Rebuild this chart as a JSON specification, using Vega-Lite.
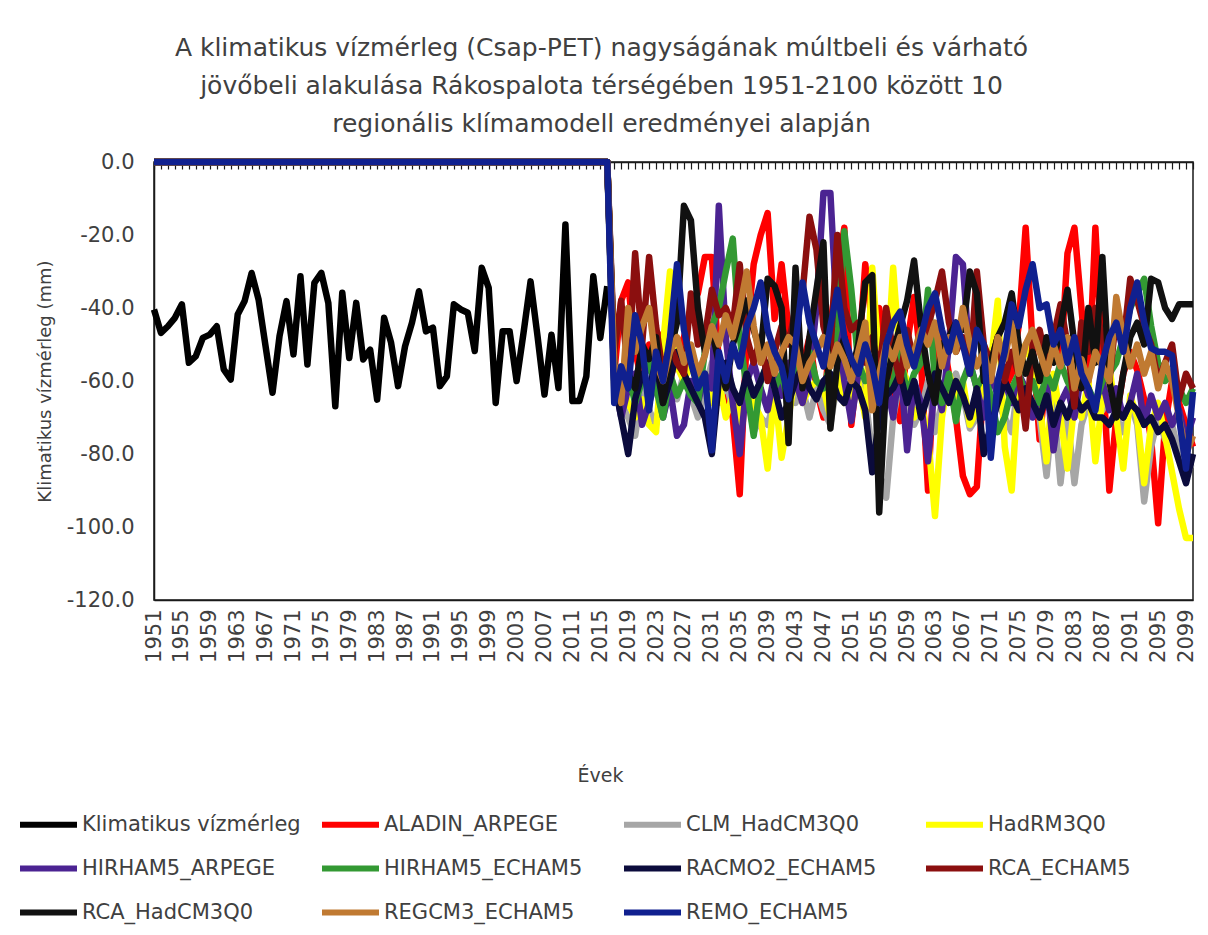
{
  "$schema": "https://vega.github.io/schema/vega-lite/v6.json",
  "width": 1039,
  "height": 438,
  "autosize": {"type": "none"},
  "padding": {"left": 154, "top": 162, "right": 15, "bottom": 335},
  "background": "white",
  "config": {
    "font": "DejaVu Sans",
    "view": {"stroke": "#1a1a1a", "strokeWidth": 1.5},
    "locale": {"number": {"decimal": ".", "thousands": ",", "grouping": [3], "currency": ["$", ""], "minus": "-"}}
  },
  "title": {
    "text": ["A klimatikus vízmérleg (Csap-PET) nagyságának múltbeli és várható", "jövőbeli alakulása Rákospalota térségében 1951-2100 között 10", "regionális klímamodell eredményei alapján"],
    "frame": "group",
    "anchor": "middle",
    "dx": -72,
    "offset": 14,
    "fontSize": 25,
    "fontWeight": "normal",
    "color": "#404040",
    "lineHeight": 38
  },
  "resolve": {"axis": {"x": "independent"}},
  "layer": [
    {
      "data": {"values": [
        {"series": "Klimatikus vízmérleg",
         "year": [1951,1952,1953,1954,1955,1956,1957,1958,1959,1960,1961,1962,1963,1964,1965,1966,1967,1968,1969,1970,1971,1972,1973,1974,1975,1976,1977,1978,1979,1980,1981,1982,1983,1984,1985,1986,1987,1988,1989,1990,1991,1992,1993,1994,1995,1996,1997,1998,1999,2000,2001,2002,2003,2004,2005,2006,2007,2008,2009,2010,2011,2012,2013,2014,2015,2016],
         "value": [-40.4,-46.8,-45,-42.7,-39,-55,-53.2,-48.2,-47.3,-45,-56.8,-59.6,-41.8,-38.1,-30.4,-37.7,-50.5,-63.2,-47.7,-38.1,-52.7,-31.3,-55.5,-33.1,-30.4,-38.6,-66.9,-35.8,-53.7,-38.6,-54.1,-51.4,-65.1,-42.7,-49.5,-61.4,-50.5,-44,-35.4,-46.4,-45.4,-61.4,-58.7,-39,-40.4,-41.3,-51.8,-29,-34.5,-66,-46.4,-46.4,-60,-46.7,-32.7,-47.7,-63.7,-47.3,-61.9,-17.1,-65.5,-65.5,-58.7,-31.3,-48.2,-34]},
        {"series": "ALADIN_ARPEGE",
         "year": [1951,1952,1953,1954,1955,1956,1957,1958,1959,1960,1961,1962,1963,1964,1965,1966,1967,1968,1969,1970,1971,1972,1973,1974,1975,1976,1977,1978,1979,1980,1981,1982,1983,1984,1985,1986,1987,1988,1989,1990,1991,1992,1993,1994,1995,1996,1997,1998,1999,2000,2001,2002,2003,2004,2005,2006,2007,2008,2009,2010,2011,2012,2013,2014,2015,2016,2017,2018,2019,2020,2021,2022,2023,2024,2025,2026,2027,2028,2029,2030,2031,2032,2033,2034,2035,2036,2037,2038,2039,2040,2041,2042,2043,2044,2045,2046,2047,2048,2049,2050,2051,2052,2053,2054,2055,2056,2057,2058,2059,2060,2061,2062,2063,2064,2065,2066,2067,2068,2069,2070,2071,2072,2073,2074,2075,2076,2077,2078,2079,2080,2081,2082,2083,2084,2085,2086,2087,2088,2089,2090,2091,2092,2093,2094,2095,2096,2097,2098,2099,2100],
         "value": [0,0,0,0,0,0,0,0,0,0,0,0,0,0,0,0,0,0,0,0,0,0,0,0,0,0,0,0,0,0,0,0,0,0,0,0,0,0,0,0,0,0,0,0,0,0,0,0,0,0,0,0,0,0,0,0,0,0,0,0,0,0,0,0,0,0,
           -58,-38,-33,-52,-60,-50,-57,-47,-60,-52,-48,-40,-36,-26,-26,-55,-62,-70,-91,-48,-28,-20,-14,-43,-28,-46,-50,-56,-48,-62,-70,-45,-30,-18,-72,-55,-28,-45,-40,-52,-62,-71,-50,-37,-55,-90,-52,-47,-58,-70,-86,-91,-89,-60,-55,-48,-62,-58,-45,-18,-50,-76,-58,-50,-56,-25,-18,-40,-62,-18,-55,-90,-70,-58,-52,-57,-65,-76,-99,-72,-60,-66,-72,-78]},
        {"series": "CLM_HadCM3Q0",
         "year": [1951,1952,1953,1954,1955,1956,1957,1958,1959,1960,1961,1962,1963,1964,1965,1966,1967,1968,1969,1970,1971,1972,1973,1974,1975,1976,1977,1978,1979,1980,1981,1982,1983,1984,1985,1986,1987,1988,1989,1990,1991,1992,1993,1994,1995,1996,1997,1998,1999,2000,2001,2002,2003,2004,2005,2006,2007,2008,2009,2010,2011,2012,2013,2014,2015,2016,2017,2018,2019,2020,2021,2022,2023,2024,2025,2026,2027,2028,2029,2030,2031,2032,2033,2034,2035,2036,2037,2038,2039,2040,2041,2042,2043,2044,2045,2046,2047,2048,2049,2050,2051,2052,2053,2054,2055,2056,2057,2058,2059,2060,2061,2062,2063,2064,2065,2066,2067,2068,2069,2070,2071,2072,2073,2074,2075,2076,2077,2078,2079,2080,2081,2082,2083,2084,2085,2086,2087,2088,2089,2090,2091,2092,2093,2094,2095,2096,2097,2098,2099,2100],
         "value": [0,0,0,0,0,0,0,0,0,0,0,0,0,0,0,0,0,0,0,0,0,0,0,0,0,0,0,0,0,0,0,0,0,0,0,0,0,0,0,0,0,0,0,0,0,0,0,0,0,0,0,0,0,0,0,0,0,0,0,0,0,0,0,0,0,0,
           -60,-66,-70,-75,-62,-68,-72,-60,-58,-65,-58,-64,-70,-62,-55,-66,-60,-68,-65,-62,-74,-70,-72,-65,-60,-58,-66,-62,-70,-62,-68,-72,-60,-55,-62,-58,-64,-80,-85,-92,-70,-60,-65,-72,-68,-60,-74,-66,-62,-58,-64,-73,-70,-62,-68,-66,-70,-74,-60,-62,-66,-70,-86,-66,-88,-70,-88,-72,-66,-70,-68,-62,-70,-74,-66,-72,-93,-78,-70,-76,-72,-80,-83,-84]},
        {"series": "HadRM3Q0",
         "year": [1951,1952,1953,1954,1955,1956,1957,1958,1959,1960,1961,1962,1963,1964,1965,1966,1967,1968,1969,1970,1971,1972,1973,1974,1975,1976,1977,1978,1979,1980,1981,1982,1983,1984,1985,1986,1987,1988,1989,1990,1991,1992,1993,1994,1995,1996,1997,1998,1999,2000,2001,2002,2003,2004,2005,2006,2007,2008,2009,2010,2011,2012,2013,2014,2015,2016,2017,2018,2019,2020,2021,2022,2023,2024,2025,2026,2027,2028,2029,2030,2031,2032,2033,2034,2035,2036,2037,2038,2039,2040,2041,2042,2043,2044,2045,2046,2047,2048,2049,2050,2051,2052,2053,2054,2055,2056,2057,2058,2059,2060,2061,2062,2063,2064,2065,2066,2067,2068,2069,2070,2071,2072,2073,2074,2075,2076,2077,2078,2079,2080,2081,2082,2083,2084,2085,2086,2087,2088,2089,2090,2091,2092,2093,2094,2095,2096,2097,2098,2099,2100],
         "value": [0,0,0,0,0,0,0,0,0,0,0,0,0,0,0,0,0,0,0,0,0,0,0,0,0,0,0,0,0,0,0,0,0,0,0,0,0,0,0,0,0,0,0,0,0,0,0,0,0,0,0,0,0,0,0,0,0,0,0,0,0,0,0,0,0,0,
           -62,-60,-66,-70,-65,-72,-74,-50,-30,-56,-60,-55,-62,-58,-66,-60,-70,-64,-72,-58,-66,-70,-84,-62,-81,-70,-58,-66,-62,-60,-62,-70,-58,-66,-64,-60,-70,-29,-55,-60,-29,-55,-60,-70,-66,-75,-97,-70,-58,-64,-60,-72,-68,-62,-55,-38,-78,-90,-60,-50,-55,-66,-82,-58,-70,-84,-66,-70,-60,-82,-65,-56,-70,-84,-64,-70,-88,-72,-66,-75,-85,-95,-103,-103]},
        {"series": "HIRHAM5_ARPEGE",
         "year": [1951,1952,1953,1954,1955,1956,1957,1958,1959,1960,1961,1962,1963,1964,1965,1966,1967,1968,1969,1970,1971,1972,1973,1974,1975,1976,1977,1978,1979,1980,1981,1982,1983,1984,1985,1986,1987,1988,1989,1990,1991,1992,1993,1994,1995,1996,1997,1998,1999,2000,2001,2002,2003,2004,2005,2006,2007,2008,2009,2010,2011,2012,2013,2014,2015,2016,2017,2018,2019,2020,2021,2022,2023,2024,2025,2026,2027,2028,2029,2030,2031,2032,2033,2034,2035,2036,2037,2038,2039,2040,2041,2042,2043,2044,2045,2046,2047,2048,2049,2050,2051,2052,2053,2054,2055,2056,2057,2058,2059,2060,2061,2062,2063,2064,2065,2066,2067,2068,2069,2070,2071,2072,2073,2074,2075,2076,2077,2078,2079,2080,2081,2082,2083,2084,2085,2086,2087,2088,2089,2090,2091,2092,2093,2094,2095,2096,2097,2098,2099,2100],
         "value": [0,0,0,0,0,0,0,0,0,0,0,0,0,0,0,0,0,0,0,0,0,0,0,0,0,0,0,0,0,0,0,0,0,0,0,0,0,0,0,0,0,0,0,0,0,0,0,0,0,0,0,0,0,0,0,0,0,0,0,0,0,0,0,0,0,0,
           -60,-70,-62,-58,-72,-66,-60,-70,-62,-75,-72,-60,-66,-58,-62,-12,-48,-66,-80,-60,-55,-62,-68,-58,-64,-55,-60,-66,-58,-40,-8.5,-8.5,-45,-60,-71,-58,-50,-62,-66,-60,-70,-55,-79,-60,-66,-82,-60,-68,-50,-26,-28,-55,-62,-70,-58,-64,-60,-66,-58,-62,-70,-64,-60,-79,-66,-62,-70,-58,-64,-66,-60,-68,-62,-70,-66,-58,-72,-64,-70,-66,-72,-68,-76,-70]},
        {"series": "HIRHAM5_ECHAM5",
         "year": [1951,1952,1953,1954,1955,1956,1957,1958,1959,1960,1961,1962,1963,1964,1965,1966,1967,1968,1969,1970,1971,1972,1973,1974,1975,1976,1977,1978,1979,1980,1981,1982,1983,1984,1985,1986,1987,1988,1989,1990,1991,1992,1993,1994,1995,1996,1997,1998,1999,2000,2001,2002,2003,2004,2005,2006,2007,2008,2009,2010,2011,2012,2013,2014,2015,2016,2017,2018,2019,2020,2021,2022,2023,2024,2025,2026,2027,2028,2029,2030,2031,2032,2033,2034,2035,2036,2037,2038,2039,2040,2041,2042,2043,2044,2045,2046,2047,2048,2049,2050,2051,2052,2053,2054,2055,2056,2057,2058,2059,2060,2061,2062,2063,2064,2065,2066,2067,2068,2069,2070,2071,2072,2073,2074,2075,2076,2077,2078,2079,2080,2081,2082,2083,2084,2085,2086,2087,2088,2089,2090,2091,2092,2093,2094,2095,2096,2097,2098,2099,2100],
         "value": [0,0,0,0,0,0,0,0,0,0,0,0,0,0,0,0,0,0,0,0,0,0,0,0,0,0,0,0,0,0,0,0,0,0,0,0,0,0,0,0,0,0,0,0,0,0,0,0,0,0,0,0,0,0,0,0,0,0,0,0,0,0,0,0,0,0,
           -56,-62,-58,-66,-60,-55,-62,-70,-58,-64,-60,-64,-66,-52,-45,-40,-30,-21,-48,-62,-75,-60,-55,-62,-58,-66,-55,-60,-52,-60,-62,-55,-45,-19,-35,-55,-60,-58,-66,-62,-60,-52,-64,-58,-55,-35,-60,-66,-58,-71,-60,-55,-62,-58,-64,-74,-70,-62,-58,-64,-60,-66,-58,-62,-55,-60,-64,-58,-62,-66,-60,-58,-55,-48,-40,-36,-32,-45,-55,-60,-58,-62,-66,-62]},
        {"series": "RACMO2_ECHAM5",
         "year": [1951,1952,1953,1954,1955,1956,1957,1958,1959,1960,1961,1962,1963,1964,1965,1966,1967,1968,1969,1970,1971,1972,1973,1974,1975,1976,1977,1978,1979,1980,1981,1982,1983,1984,1985,1986,1987,1988,1989,1990,1991,1992,1993,1994,1995,1996,1997,1998,1999,2000,2001,2002,2003,2004,2005,2006,2007,2008,2009,2010,2011,2012,2013,2014,2015,2016,2017,2018,2019,2020,2021,2022,2023,2024,2025,2026,2027,2028,2029,2030,2031,2032,2033,2034,2035,2036,2037,2038,2039,2040,2041,2042,2043,2044,2045,2046,2047,2048,2049,2050,2051,2052,2053,2054,2055,2056,2057,2058,2059,2060,2061,2062,2063,2064,2065,2066,2067,2068,2069,2070,2071,2072,2073,2074,2075,2076,2077,2078,2079,2080,2081,2082,2083,2084,2085,2086,2087,2088,2089,2090,2091,2092,2093,2094,2095,2096,2097,2098,2099,2100],
         "value": [0,0,0,0,0,0,0,0,0,0,0,0,0,0,0,0,0,0,0,0,0,0,0,0,0,0,0,0,0,0,0,0,0,0,0,0,0,0,0,0,0,0,0,0,0,0,0,0,0,0,0,0,0,0,0,0,0,0,0,0,0,0,0,0,0,0,
           -60,-70,-80,-65,-58,-62,-55,-66,-60,-52,-58,-62,-66,-70,-80,-60,-55,-62,-66,-58,-64,-60,-55,-62,-70,-66,-60,-56,-62,-65,-60,-58,-64,-66,-60,-62,-68,-85,-70,-64,-62,-58,-66,-60,-70,-64,-58,-62,-66,-60,-64,-70,-62,-80,-72,-66,-60,-64,-68,-62,-66,-70,-64,-72,-66,-70,-64,-68,-66,-70,-70,-72,-68,-70,-66,-68,-72,-70,-74,-72,-76,-82,-88,-80]},
        {"series": "RCA_ECHAM5",
         "year": [1951,1952,1953,1954,1955,1956,1957,1958,1959,1960,1961,1962,1963,1964,1965,1966,1967,1968,1969,1970,1971,1972,1973,1974,1975,1976,1977,1978,1979,1980,1981,1982,1983,1984,1985,1986,1987,1988,1989,1990,1991,1992,1993,1994,1995,1996,1997,1998,1999,2000,2001,2002,2003,2004,2005,2006,2007,2008,2009,2010,2011,2012,2013,2014,2015,2016,2017,2018,2019,2020,2021,2022,2023,2024,2025,2026,2027,2028,2029,2030,2031,2032,2033,2034,2035,2036,2037,2038,2039,2040,2041,2042,2043,2044,2045,2046,2047,2048,2049,2050,2051,2052,2053,2054,2055,2056,2057,2058,2059,2060,2061,2062,2063,2064,2065,2066,2067,2068,2069,2070,2071,2072,2073,2074,2075,2076,2077,2078,2079,2080,2081,2082,2083,2084,2085,2086,2087,2088,2089,2090,2091,2092,2093,2094,2095,2096,2097,2098,2099,2100],
         "value": [0,0,0,0,0,0,0,0,0,0,0,0,0,0,0,0,0,0,0,0,0,0,0,0,0,0,0,0,0,0,0,0,0,0,0,0,0,0,0,0,0,0,0,0,0,0,0,0,0,0,0,0,0,0,0,0,0,0,0,0,0,0,0,0,0,0,
           -52,-38,-58,-25,-50,-26,-45,-58,-50,-55,-58,-36,-50,-48,-35,-42,-40,-45,-28,-48,-55,-48,-60,-52,-45,-50,-40,-36,-15,-24,-45,-52,-20,-40,-46,-44,-55,-48,-58,-40,-52,-60,-46,-55,-50,-45,-38,-30,-44,-52,-48,-58,-30,-50,-55,-48,-60,-52,-58,-73,-50,-46,-55,-48,-39,-50,-67,-44,-52,-40,-48,-60,-42,-50,-32,-38,-45,-50,-60,-55,-50,-65,-58,-62]},
        {"series": "RCA_HadCM3Q0",
         "year": [1951,1952,1953,1954,1955,1956,1957,1958,1959,1960,1961,1962,1963,1964,1965,1966,1967,1968,1969,1970,1971,1972,1973,1974,1975,1976,1977,1978,1979,1980,1981,1982,1983,1984,1985,1986,1987,1988,1989,1990,1991,1992,1993,1994,1995,1996,1997,1998,1999,2000,2001,2002,2003,2004,2005,2006,2007,2008,2009,2010,2011,2012,2013,2014,2015,2016,2017,2018,2019,2020,2021,2022,2023,2024,2025,2026,2027,2028,2029,2030,2031,2032,2033,2034,2035,2036,2037,2038,2039,2040,2041,2042,2043,2044,2045,2046,2047,2048,2049,2050,2051,2052,2053,2054,2055,2056,2057,2058,2059,2060,2061,2062,2063,2064,2065,2066,2067,2068,2069,2070,2071,2072,2073,2074,2075,2076,2077,2078,2079,2080,2081,2082,2083,2084,2085,2086,2087,2088,2089,2090,2091,2092,2093,2094,2095,2096,2097,2098,2099,2100],
         "value": [0,0,0,0,0,0,0,0,0,0,0,0,0,0,0,0,0,0,0,0,0,0,0,0,0,0,0,0,0,0,0,0,0,0,0,0,0,0,0,0,0,0,0,0,0,0,0,0,0,0,0,0,0,0,0,0,0,0,0,0,0,0,0,0,0,0,
           -55,-60,-58,-62,-50,-54,-48,-66,-52,-44,-12,-16,-40,-52,-46,-55,-62,-50,-44,-38,-46,-52,-32,-34,-40,-77,-29,-62,-48,-35,-22,-73,-55,-48,-58,-50,-33,-31,-96,-60,-52,-45,-38,-27,-45,-58,-66,-50,-48,-44,-46,-30,-36,-60,-55,-48,-44,-36,-50,-58,-52,-60,-48,-55,-45,-35,-50,-62,-40,-55,-26,-60,-70,-58,-48,-44,-50,-32,-33,-40,-43,-39,-39,-39]},
        {"series": "REGCM3_ECHAM5",
         "year": [1951,1952,1953,1954,1955,1956,1957,1958,1959,1960,1961,1962,1963,1964,1965,1966,1967,1968,1969,1970,1971,1972,1973,1974,1975,1976,1977,1978,1979,1980,1981,1982,1983,1984,1985,1986,1987,1988,1989,1990,1991,1992,1993,1994,1995,1996,1997,1998,1999,2000,2001,2002,2003,2004,2005,2006,2007,2008,2009,2010,2011,2012,2013,2014,2015,2016,2017,2018,2019,2020,2021,2022,2023,2024,2025,2026,2027,2028,2029,2030,2031,2032,2033,2034,2035,2036,2037,2038,2039,2040,2041,2042,2043,2044,2045,2046,2047,2048,2049,2050,2051,2052,2053,2054,2055,2056,2057,2058,2059,2060,2061,2062,2063,2064,2065,2066,2067,2068,2069,2070,2071,2072,2073,2074,2075,2076,2077,2078,2079,2080,2081,2082,2083,2084,2085,2086,2087,2088,2089,2090,2091,2092,2093,2094,2095,2096,2097,2098,2099,2100],
         "value": [0,0,0,0,0,0,0,0,0,0,0,0,0,0,0,0,0,0,0,0,0,0,0,0,0,0,0,0,0,0,0,0,0,0,0,0,0,0,0,0,0,0,0,0,0,0,0,0,0,0,0,0,0,0,0,0,0,0,0,0,0,0,0,0,0,0,
           -55,-66,-40,-52,-45,-40,-55,-60,-52,-48,-55,-50,-58,-53,-45,-50,-42,-48,-40,-30,-45,-55,-50,-58,-52,-48,-50,-60,-55,-52,-48,-56,-50,-54,-60,-52,-44,-68,-58,-50,-54,-48,-56,-52,-46,-50,-44,-56,-48,-52,-40,-50,-56,-52,-60,-48,-54,-44,-58,-50,-46,-52,-58,-50,-56,-48,-62,-54,-60,-52,-56,-60,-37,-48,-56,-50,-58,-52,-62,-55,-60,-70,-80,-75]},
        {"series": "REMO_ECHAM5",
         "year": [1951,1952,1953,1954,1955,1956,1957,1958,1959,1960,1961,1962,1963,1964,1965,1966,1967,1968,1969,1970,1971,1972,1973,1974,1975,1976,1977,1978,1979,1980,1981,1982,1983,1984,1985,1986,1987,1988,1989,1990,1991,1992,1993,1994,1995,1996,1997,1998,1999,2000,2001,2002,2003,2004,2005,2006,2007,2008,2009,2010,2011,2012,2013,2014,2015,2016,2017,2018,2019,2020,2021,2022,2023,2024,2025,2026,2027,2028,2029,2030,2031,2032,2033,2034,2035,2036,2037,2038,2039,2040,2041,2042,2043,2044,2045,2046,2047,2048,2049,2050,2051,2052,2053,2054,2055,2056,2057,2058,2059,2060,2061,2062,2063,2064,2065,2066,2067,2068,2069,2070,2071,2072,2073,2074,2075,2076,2077,2078,2079,2080,2081,2082,2083,2084,2085,2086,2087,2088,2089,2090,2091,2092,2093,2094,2095,2096,2097,2098,2099,2100],
         "value": [0,0,0,0,0,0,0,0,0,0,0,0,0,0,0,0,0,0,0,0,0,0,0,0,0,0,0,0,0,0,0,0,0,0,0,0,0,0,0,0,0,0,0,0,0,0,0,0,0,0,0,0,0,0,0,0,0,0,0,0,0,0,0,0,0,0,
           -66,-56,-62,-42,-50,-68,-52,-60,-48,-28,-46,-55,-62,-58,-79,-52,-60,-50,-56,-45,-40,-33,-46,-52,-56,-65,-50,-33,-44,-50,-56,-45,-35,-48,-54,-58,-50,-56,-66,-50,-44,-41,-50,-56,-48,-40,-36,-46,-52,-44,-50,-58,-46,-50,-81,-60,-52,-39,-45,-35,-28,-40,-39,-50,-46,-55,-48,-58,-62,-68,-55,-48,-44,-52,-40,-33,-44,-51,-52,-52,-53,-70,-84,-63]}
      ]},
      "transform": [{"flatten": ["year", "value"]}],
      "mark": {"type": "line", "strokeWidth": 6.5, "strokeJoin": "round", "strokeCap": "butt"},
      "encoding": {
        "x": {
          "field": "year", "type": "quantitative",
          "scale": {"domain": [1951, 2100], "nice": false, "zero": false},
          "axis": {
            "orient": "bottom",
            "values": [1951,1955,1959,1963,1967,1971,1975,1979,1983,1987,1991,1995,1999,2003,2007,2011,2015,2019,2023,2027,2031,2035,2039,2043,2047,2051,2055,2059,2063,2067,2071,2075,2079,2083,2087,2091,2095,2099],
            "format": "d",
            "labelAngle": -90,
            "labelAlign": "right",
            "labelBaseline": "middle",
            "labelOverlap": false,
            "labelFlush": false,
            "labelBound": false,
            "labelPadding": 9,
            "labelFontSize": 21,
            "labelColor": "#404040",
            "ticks": false,
            "grid": false,
            "domain": true,
            "domainColor": "#1a1a1a",
            "domainWidth": 1.5,
            "title": "Évek",
            "titleX": 446,
            "titleY": 175,
            "titleAlign": "center",
            "titleBaseline": "middle",
            "titleFontSize": 19,
            "titleFontWeight": "normal",
            "titleColor": "#404040"
          }
        },
        "y": {
          "field": "value", "type": "quantitative",
          "scale": {"domain": [-120, 0], "nice": false, "zero": false},
          "axis": {
            "values": [0, -20, -40, -60, -80, -100, -120],
            "format": ".1f",
            "ticks": false,
            "grid": false,
            "domain": true,
            "domainColor": "#1a1a1a",
            "domainWidth": 1.5,
            "labelPadding": 20,
            "labelFontSize": 21,
            "labelColor": "#404040",
            "title": "Klimatikus vízmérleg (mm)",
            "titleX": -109,
            "titleY": 219,
            "titleAngle": -90,
            "titleAlign": "center",
            "titleBaseline": "middle",
            "titleFontSize": 18,
            "titleFontWeight": "normal",
            "titleColor": "#404040"
          }
        },
        "color": {
          "field": "series", "type": "nominal",
          "scale": {
            "domain": ["Klimatikus vízmérleg", "ALADIN_ARPEGE", "CLM_HadCM3Q0", "HadRM3Q0", "HIRHAM5_ARPEGE", "HIRHAM5_ECHAM5", "RACMO2_ECHAM5", "RCA_ECHAM5", "RCA_HadCM3Q0", "REGCM3_ECHAM5", "REMO_ECHAM5"],
            "range": ["#000000", "#ff0000", "#a6a6a6", "#ffff00", "#4b2392", "#339933", "#0b0b3c", "#8b0f0f", "#111111", "#c07a32", "#10208f"]
          },
          "legend": {
            "orient": "none",
            "legendX": -137,
            "legendY": 631,
            "direction": "horizontal",
            "columns": 4,
            "gridAlign": "all",
            "title": null,
            "padding": 0,
            "symbolType": "stroke",
            "symbolSize": 3249,
            "symbolStrokeWidth": 6,
            "labelFontSize": 21,
            "labelColor": "#404040",
            "labelOffset": 2,
            "labelLimit": 400,
            "columnPadding": 9,
            "rowPadding": -30
          }
        }
      }
    },
    {
      "data": {"values": [{"year": 1951}]},
      "mark": {"type": "rule", "opacity": 0},
      "encoding": {
        "x": {
          "field": "year", "type": "quantitative",
          "scale": {"domain": [1951, 2100], "nice": false, "zero": false},
          "axis": {
            "orient": "top",
            "tickCount": 149,
            "labels": false,
            "title": null,
            "grid": false,
            "ticks": true,
            "tickSize": -7,
            "tickColor": "#1a1a1a",
            "tickWidth": 1.2,
            "domain": true,
            "domainColor": "#1a1a1a",
            "domainWidth": 1.5
          }
        }
      }
    }
  ]
}
